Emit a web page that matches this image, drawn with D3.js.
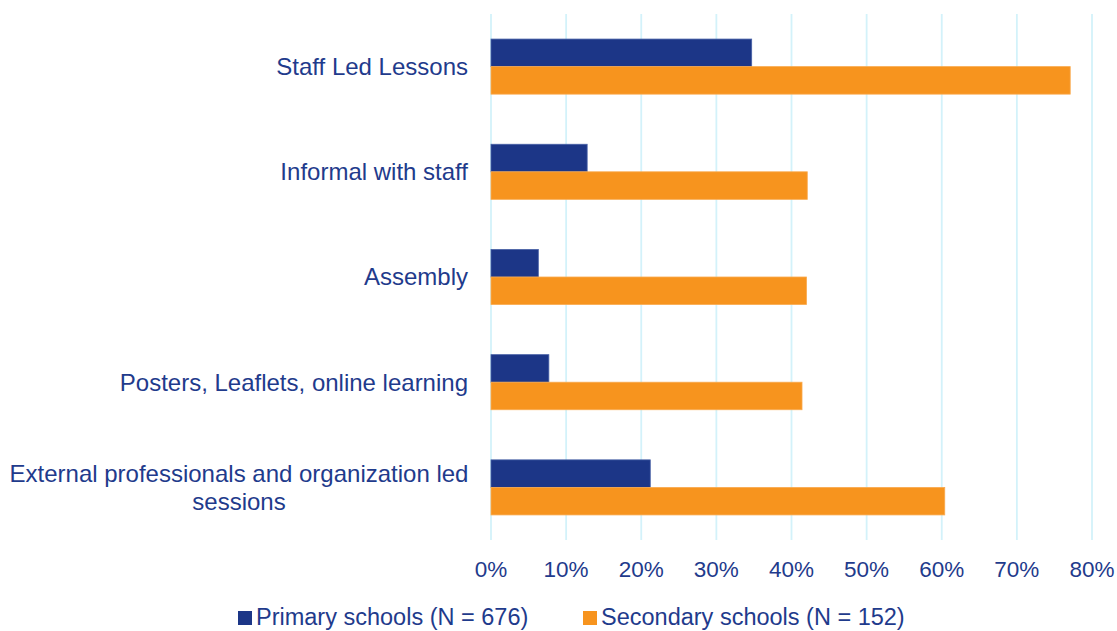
<!DOCTYPE html>
<html>
<head>
<meta charset="utf-8">
<script src="https://cdn.jsdelivr.net/npm/d3@7"></script>
<style>
    body { margin: 0; background: #fff; }
    text { font-family: "Liberation Sans", Arial, sans-serif; fill: #1f3b8c; }
</style>
</head>
<body>
<div id="chart"></div>
<script>
'use strict';

// Data
const categories = [
    'Staff Led Lessons',
    'Informal with staff',
    'Assembly',
    'Posters, Leaflets, online learning',
    'External professionals and organization led sessions'
];
const seriesNames = ['Primary schools (N = 676)', 'Secondary schools (N = 152)'];
const primaryValues = [34.7, 12.8, 6.3, 7.7, 21.2];
const secondaryValues = [77.1, 42.1, 42.0, 41.4, 60.4];
const xTicks = [0, 10, 20, 30, 40, 50, 60, 70, 80];

// Configs
const svgW = 1117;
const svgH = 631;
const margin = {top: 14, right: 25, bottom: 91, left: 491};
const colors = ['#1c3687', '#f7941e'];
const strokes = ['#4760a6', '#f9ab50'];

const svg = d3.select('#chart')
    .append('svg')
    .attr('width', svgW)
    .attr('height', svgH);

// Scales
const x = d3.scaleLinear().domain([0, 80]).range([margin.left, 1092]);
const y = d3.scaleBand().domain(categories).range([margin.top, svgH - margin.bottom]).padding(0);
const ySub = d3.scaleBand().domain([0, 1]).range([0, y.bandwidth()]).paddingInner(0).paddingOuter(0.91);

// Gridlines
svg.append('g')
    .selectAll('line')
    .data(xTicks)
    .join('line')
    .attr('x1', d => x(d))
    .attr('x2', d => x(d))
    .attr('y1', margin.top)
    .attr('y2', svgH - margin.bottom)
    .attr('stroke', '#d3f2fa')
    .attr('stroke-width', 1.8);

// Bars
const rows = categories.map((c, i) => ({cat: c, vals: [primaryValues[i], secondaryValues[i]]}));
const rowG = svg.append('g')
    .selectAll('g')
    .data(rows)
    .join('g')
    .attr('transform', d => `translate(0,${y(d.cat)})`);

rowG.selectAll('rect')
    .data(d => d.vals.map((v, k) => ({v, k})))
    .join('rect')
    .attr('x', x(0))
    .attr('y', d => ySub(d.k))
    .attr('width', d => x(d.v) - x(0))
    .attr('height', ySub.bandwidth())
    .attr('fill', d => colors[d.k])
    .attr('stroke', d => strokes[d.k])
    .attr('stroke-width', 0.8);

// Category labels (wrapped to fit left margin)
const labelG = svg.append('g');
const labelSize = '24px';
categories.forEach(c => {
    const maxW = 470;
    const words = c.split(' ');
    const lines = [];
    let line = '';
    const tmp = labelG.append('text').style('font-size', labelSize);
    words.forEach(w => {
        const test = line ? line + ' ' + w : w;
        tmp.text(test);
        if (tmp.node().getComputedTextLength() > maxW && line) {
            lines.push(line);
            line = w;
        } else {
            line = test;
        }
    });
    lines.push(line);
    tmp.remove();

    const cy = y(c) + y.bandwidth() / 2;
    const lh = 28;
    const t = labelG.append('text')
        .style('font-size', labelSize);
    // single line right-aligned, multi-line centred
    if (lines.length === 1) {
        t.attr('text-anchor', 'end')
            .attr('x', 468)
            .attr('y', cy)
            .attr('dy', '0.35em')
            .text(lines[0]);
    } else {
        t.attr('text-anchor', 'middle');
        lines.forEach((l, j) => {
            t.append('tspan')
                .attr('x', 239)
                .attr('y', cy + (j - (lines.length - 1) / 2) * lh)
                .attr('dy', '0.35em')
                .text(l);
        });
    }
});

// X axis labels
svg.append('g')
    .selectAll('text')
    .data(xTicks)
    .join('text')
    .attr('x', d => x(d))
    .attr('y', 577)
    .attr('text-anchor', 'middle')
    .style('font-size', '22.5px')
    .text(d => d + '%');

// Legend
const legendX = [238, 583];
const legend = svg.append('g')
    .selectAll('g')
    .data(seriesNames)
    .join('g')
    .attr('transform', (d, i) => `translate(${legendX[i]},611)`);
legend.append('rect')
    .attr('width', 14)
    .attr('height', 14)
    .attr('fill', (d, i) => colors[i]);
legend.append('text')
    .attr('x', 18)
    .attr('y', 14)
    .style('font-size', '23.5px')
    .text(d => d);
</script>
</body>
</html>
